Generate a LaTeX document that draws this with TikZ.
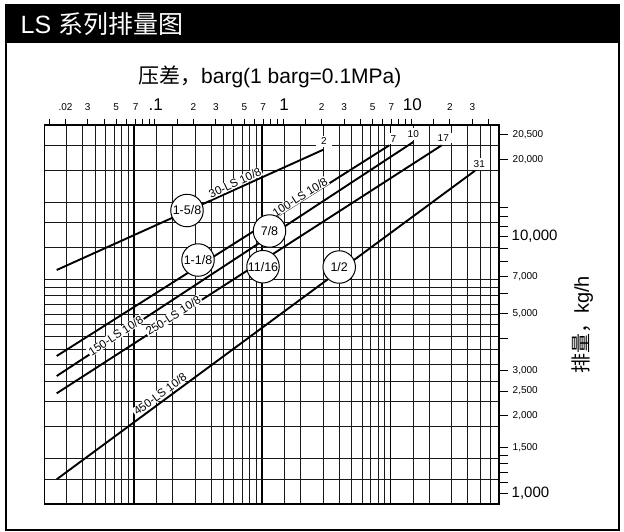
\documentclass[tikz,border=0pt]{standalone}
\usepackage{fontspec}
\setmainfont{Liberation Sans}
\newfontfamily\cjk{Noto Sans CJK SC}
\begin{document}
\begin{tikzpicture}[x=1pt,y=-1pt,
  gridthin/.style={line width=1pt, black!90},
  gridthick/.style={line width=1.8pt, black},
  curve/.style={line width=1.9pt, black},
  tickln/.style={line width=0.9pt, black},
  smallnum/.style={font=\fontsize{10}{12}\selectfont, inner sep=0pt},
  bignum/.style={font=\fontsize{17}{19}\selectfont, inner sep=0pt},
  lbl/.style={font=\fontsize{11.5}{13}\selectfont, fill=white, inner xsep=1pt, inner ysep=0.5pt},
  endlbl/.style={font=\fontsize{10}{12}\selectfont, fill=white, inner xsep=5pt, inner ysep=2pt},
  ring/.style={circle, draw, fill=white, line width=1pt, minimum size=32.5pt, inner sep=0pt, font=\fontsize{12.5}{14}\selectfont}]
\useasboundingbox (0,0) rectangle (624,531);
\fill[white] (0,0) rectangle (624,531);
% frame and header
\draw[line width=2pt] (6,5) rectangle (619,530);
\fill[black] (5,4) rectangle (620,42.5);
\node[anchor=base west, text=white, inner sep=0pt, font=\fontsize{25}{28}\selectfont] (hdr) at (20.5,33.5) {LS {\cjk 系列排量图}};
\node[anchor=base west, inner sep=0pt, font=\fontsize{21}{24}\selectfont] (ttl) at (138,83) {{\cjk 压差，}barg(1 barg=0.1MPa)};
% vertical grid lines (psi)
\foreach \p in {0.3,0.4,0.5,0.6,0.7,0.8,0.9,1.5,2,3,4,5,6,7,8,9,15,20,30,40,50,60,70,80,90,150,200,300,400,500,600} {
  \pgfmathsetmacro\xx{134+128.25*log10(\p)}
  \draw[gridthin] (\xx,125.2) -- (\xx,503.8);
}
\foreach \p in {1,10,100} {
  \pgfmathsetmacro\xx{134+128.25*log10(\p)}
  \draw[gridthick] (\xx,125.2) -- (\xx,503.8);
}
% horizontal grid lines (lb/h, thousands)
\foreach \k in {2.5,3,4,5,6,7,8,9,10,11,12,13,14,15,20,25,30,40,50} {
  \pgfmathsetmacro\yy{493-256.3*log10(\k/2.2046)}
  \draw[gridthin] (44.4,\yy) -- (498.9,\yy);
}
\draw[line width=1.3pt] (44.4,125.2) rectangle (498.9,503.8);
\draw[line width=2pt] (43.8,125.2) -- (499.5,125.2);
\draw[line width=2pt] (43.8,503.8) -- (499.5,503.8);
% top ticks (barg)
\foreach \b in {0.015,0.02,0.03,0.04,0.05,0.06,0.07,0.08,0.09,0.1,0.15,0.2,0.3,0.4,0.5,0.6,0.7,0.8,0.9,1,1.5,2,3,4,5,6,7,8,9,10,15,20,30,40} {
  \pgfmathsetmacro\xx{282.96+128.25*log10(\b)}
  \draw[tickln] (\xx,118.5) -- (\xx,125);
}
\foreach \b/\t in {0.02/.02,0.03/3,0.05/5,0.07/7,0.2/2,0.3/3,0.5/5,0.7/7,2/2,3/3,5/5,7/7,20/2,30/3} {
  \pgfmathsetmacro\xx{282.96+128.25*log10(\b)}
  \node[smallnum, anchor=base] at (\xx,110.5) {\t};
}
\foreach \b/\t in {0.1/.1,1/1,10/10} {
  \pgfmathsetmacro\xx{284+128.25*log10(\b)}
  \node[bignum, anchor=base] at (\xx,110.5) {\t};
}
% right ticks (kg/h, thousands)
\foreach \k in {1,1.1,1.2,1.3,1.4,1.5,2,2.5,3,4,5,6,7,8,9,10,11,12,13,20,25} {
  \pgfmathsetmacro\yy{493-256.3*log10(\k)}
  \draw[tickln] (498.9,\yy) -- (508,\yy);
}
\foreach \k/\t in {25/{20,500},20/{20,000},7/{7,000},5/{5,000},3/{3,000},2.5/{2,500},2/{2,000},1.5/{1,500}} {
  \pgfmathsetmacro\yy{493-256.3*log10(\k)}
  \node[smallnum, anchor=west] at (512.5,\yy) {\t};
}
\foreach \k/\t in {10/{10,000},1/{1,000}} {
  \pgfmathsetmacro\yy{493-256.3*log10(\k)}
  \node[font=\fontsize{15}{17}\selectfont, inner sep=0pt, anchor=west] at (511.5,\yy) {\t};
}
\node[rotate=90, inner sep=0pt, font=\fontsize{20}{22}\selectfont] (ylab) at (582.5,325) {{\cjk 排量，}kg/h};
% capacity lines
\coordinate (s30) at (56.7,270);    \coordinate (e30) at (323.3,149.7);
\coordinate (s100) at (56.7,356);   \coordinate (e100) at (389.3,145.3);
\coordinate (s150) at (56.7,376);   \coordinate (e150) at (413.3,142);
\coordinate (s250) at (56.7,393.3); \coordinate (e250) at (441.7,145.3);
\coordinate (s450) at (56.7,479.3); \coordinate (e450) at (475,170.7);
\draw[curve] (s30) -- (e30);
\draw[curve] (s100) -- (e100);
\draw[curve] (s150) -- (e150);
\draw[curve] (s250) -- (e250);
\draw[curve] (s450) -- (e450);
% line labels
\node[lbl, rotate=25] (t30) at (235,183) {30-LS 10/8};
\node[lbl, rotate=32.4] (t100) at (300,197) {100-LS 10/8};
\node[lbl, rotate=33.3] (t150) at (115.7,335.5) {150-LS 10/8};
\node[lbl, rotate=32.8] (t250) at (173.3,315.5) {250-LS 10/8};
\node[lbl, rotate=36.5] (t450) at (160,394) {450-LS 10/8};
% end labels
\node[endlbl] (m2) at (324,141.3) {2};
\node[endlbl] (m7) at (393.3,138.7) {7};
\node[endlbl] (m10) at (413.3,134) {10};
\node[endlbl] (m17) at (443.3,138) {17};
\node[endlbl] (m31) at (479.3,164) {31};
% orifice circles
\node[ring] (c158) at (187,210.5) {1-5/8};
\node[ring] (c118) at (198,260) {1-1/8};
\node[ring] (c78) at (269.5,231) {7/8};
\node[ring] (c1116) at (263,266.7) {11/16};
\node[ring] (c12) at (339.2,267) {1/2};
\end{tikzpicture}
\end{document}
